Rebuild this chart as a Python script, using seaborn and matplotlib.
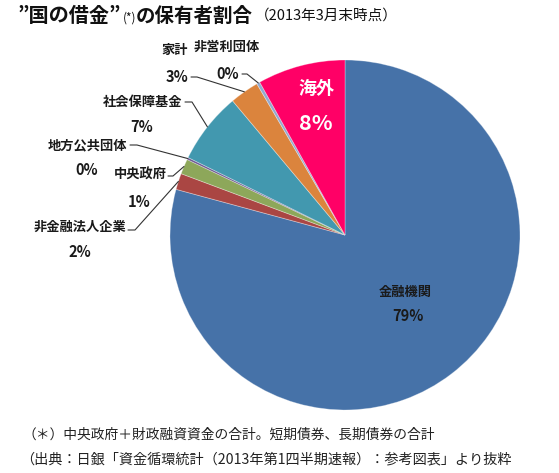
import numpy as np
import matplotlib
matplotlib.use('Agg')
import matplotlib.pyplot as plt
import seaborn as sns

# holders of JGB etc. (share %, March 2013), clockwise from 12 o'clock
holders = ['金融機関', '非金融法人企業', '中央政府', '地方公共団体',
           '社会保障基金', '家計', '非営利団体', '海外']
shares = [79.2, 1.5, 1.4, 0.2, 6.6, 2.7, 0.3, 8.1]
pct_text = ['79%', '2%', '1%', '0%', '7%', '3%', '0%', '8%']

palette = ['#4672A8', '#AA4643', '#8DA75A', '#6E5A94',
           '#4298AF', '#DB843D', '#93A9CF', '#FF0066']

sns.set_theme(style='white')
plt.rcParams['font.family'] = ['Noto Sans CJK JP', 'DejaVu Sans']

W, H = 559, 473
CX, CY, R = 345, 235, 175

fig = plt.figure(figsize=(W / 100, H / 100), dpi=100)
ax = fig.add_axes([(CX - R) / W, (H - CY - R) / H, 2 * R / W, 2 * R / H])
wedges, _ = ax.pie(shares, colors=sns.color_palette(palette), startangle=90,
                   counterclock=False, radius=1,
                   wedgeprops=dict(linewidth=0.6, edgecolor=(1, 1, 1, 0.35)))
ax.set_xlim(-1, 1)
ax.set_ylim(-1, 1)
ax.axis('off')


def px(x, y):
    # pixel position on the picture -> pie data coords
    return ((x - CX) / R, (CY - y) / R)


def anchor(w):
    t = np.deg2rad((w.theta1 + w.theta2) / 2)
    return np.cos(t), np.sin(t)


lab_kw = dict(fontsize=9.5, fontweight='bold', color='#1a1a1a', ha='center', va='center')
pct_kw = dict(lab_kw, fontsize=10.5)

# outside labels: name pos, pct pos, start of leader line, knee of leader line
outer = {
    1: ((80, 227), (80, 252), (128, 230), (135, 230)),
    2: ((140, 175), (139, 202), (168, 176), (173, 176)),
    3: ((87, 145), (87, 170), (130, 145), (137, 145)),
    4: ((143, 102), (142, 127), (185, 102), (192, 102)),
    5: ((175, 50), (177, 77), (191, 77), (197, 77)),
    6: ((227, 47), (228, 74), (242, 74), (247, 74)),
}
for i, (npos, ppos, s, k) in outer.items():
    if i == 5:
        ax.text(*px(*npos), '家計', **lab_kw)
    elif i == 6:
        ax.text(*px(*npos), '非営利団体', **lab_kw)
    else:
        ax.text(*px(*npos), holders[i], **lab_kw)
    ax.text(*px(*ppos), pct_text[i], **pct_kw)
    a = anchor(wedges[i])
    p0, p1 = px(*s), px(*k)
    ax.plot([p0[0], p1[0], a[0]], [p0[1], p1[1], a[1]], color='#333333',
            lw=0.8, clip_on=False)

# inside labels
ax.text(*px(316, 88), holders[7], fontsize=13, fontweight='bold', color='white',
        ha='center', va='center')
ax.text(*px(316, 124), pct_text[7], fontsize=15.5, fontweight='bold', color='white',
        ha='center', va='center')
ax.text(*px(405, 292), holders[0], **lab_kw)
ax.text(*px(408, 316), pct_text[0], **pct_kw)

# title, built from pieces of different weight/size
fig.canvas.draw()
renderer = fig.canvas.get_renderer()
x = 17 / W
ty = 1 - 16 / H
pieces = [('”国の借金”', 14.5, 'bold', 0, 2), ('(*)', 8.5, 'normal', -2, 0),
          ('の保有者割合', 14, 'bold', 0, 2), ('（2013年3月末時点）', 10.5, 'normal', 0, 0)]
for txt, sz, wt, dy, gap in pieces:
    t = fig.text(x, ty + dy / H, txt, fontsize=sz, fontweight=wt, color='#111111',
                 ha='left', va='center')
    bb = t.get_window_extent(renderer)
    x = bb.x1 / W + gap / W

fig.text(22 / W, 1 - 435 / H, '（＊）中央政府＋財政融資資金の合計。短期債券、長期債券の合計',
         fontsize=9.9, color='#222222', ha='left', va='center')
fig.text(20 / W, 1 - 459 / H, '（出典：日銀「資金循環統計（2013年第1四半期速報）：参考図表」より抜粋',
         fontsize=10.2, color='#222222', ha='left', va='center')

fig.savefig('out.png', dpi=100, facecolor='white')
